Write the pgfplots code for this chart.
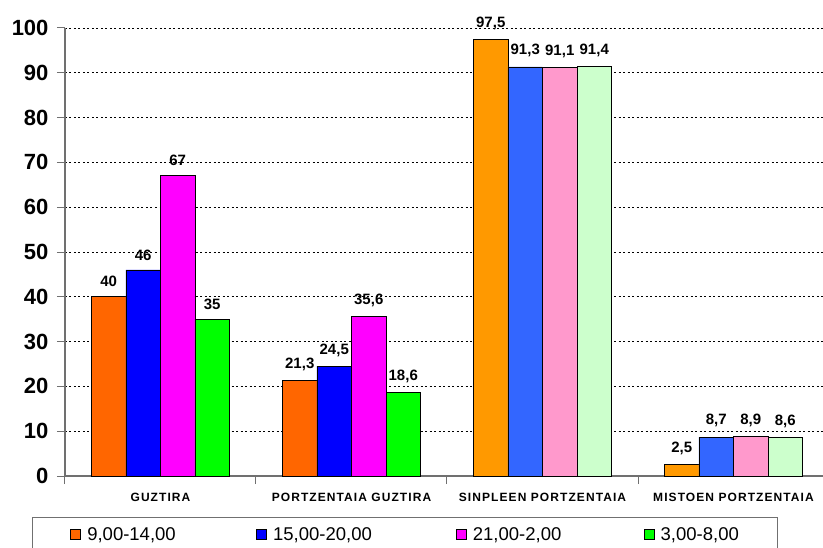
\documentclass[border=0pt]{standalone}
\usepackage{pgfplots}
\pgfplotsset{compat=1.18}
\usepackage{fontspec}
\setmainfont{Liberation Sans}
\definecolor{cA}{HTML}{FF6600}
\definecolor{cB}{HTML}{0000FF}
\definecolor{cC}{HTML}{FF00FF}
\definecolor{cD}{HTML}{00FF00}
\definecolor{dA}{HTML}{FF9900}
\definecolor{dB}{HTML}{3366FF}
\definecolor{dC}{HTML}{FF99CC}
\definecolor{dD}{HTML}{CCFFCC}
\definecolor{axgray}{HTML}{707070}
\pgfplotsset{sq legend/.style={legend image code/.code={\draw[##1,draw=black,line width=0.8pt] (0pt,-5pt) rectangle (10pt,5pt);}}}
\begin{document}
\begin{tikzpicture}
\useasboundingbox (-65pt,-71pt) rectangle (758pt,476pt);
\begin{axis}[
  scale only axis, width=764pt, height=448pt,
  xmin=-0.5, xmax=3.5, ymin=0, ymax=100,
  axis lines=left, axis line style={-, draw=axgray, line width=1.2pt},
  ytick={0,10,...,100},
  /pgf/number format/assume math mode=true,
  yticklabel style={font=\fontsize{22}{24}\selectfont\bfseries, xshift=-5pt},
  ymajorgrids, grid style={black, line width=0.9pt, dash pattern=on 2pt off 2.5pt},
  xtick={-0.5,0.5,1.5,2.5,3.5}, x tick label as interval,
  xticklabels={GUZTIRA, PORTZENTAIA GUZTIRA, SINPLEEN PORTZENTAIA, MISTOEN PORTZENTAIA},
  xticklabel style={font=\fontsize{12}{14}\selectfont\bfseries\addfontfeature{LetterSpace=9}, yshift=-6pt},
  tick style={draw=axgray, line width=1pt},
  major tick length=8pt, tick align=outside,
  ybar, bar width=34.5pt,
  nodes near coords,
  every node near coord/.append style={font=\fontsize{15}{17}\selectfont\bfseries, /pgf/number format/use comma, yshift=6pt, black},
  legend columns=4,
  legend cell align=left,
  legend style={
    at={(axis description cs:-0.0432,-0.0915)}, anchor=north west,
    draw=axgray, line width=1pt,
    inner xsep=38pt, inner ysep=9pt,
    font=\fontsize{18.5}{22}\selectfont,
    nodes={inner sep=1pt},
    /tikz/every odd column/.append style={column sep=5pt},
    /tikz/every even column/.append style={column sep=0pt},
  },
]
\addplot[fill=cA, draw=black, line width=0.8pt, bar shift=-51.75pt, sq legend] coordinates {(0,40) (1,21.3)};
\addplot[fill=cB, draw=black, line width=0.8pt, bar shift=-17.25pt, sq legend] coordinates {(0,46) (1,24.5)};
\addplot[fill=cC, draw=black, line width=0.8pt, bar shift=17.25pt, sq legend] coordinates {(0,67) (1,35.6)};
\addplot[fill=cD, draw=black, line width=0.8pt, bar shift=51.75pt, sq legend] coordinates {(0,35) (1,18.6)};
\addplot[fill=dA, draw=black, line width=0.8pt, bar shift=-51.75pt, forget plot] coordinates {(2,97.5) (3,2.5)};
\addplot[fill=dB, draw=black, line width=0.8pt, bar shift=-17.25pt, forget plot] coordinates {(2,91.3) (3,8.7)};
\addplot[fill=dC, draw=black, line width=0.8pt, bar shift=17.25pt, forget plot] coordinates {(2,91.1) (3,8.9)};
\addplot[fill=dD, draw=black, line width=0.8pt, bar shift=51.75pt, forget plot] coordinates {(2,91.4) (3,8.6)};
\legend{\makebox[168pt][l]{9,00-14,00}, \makebox[182pt][l]{15,00-20,00}, \makebox[170pt][l]{21,00-2,00}, {3,00-8,00}}
\end{axis}
\end{tikzpicture}
\end{document}
